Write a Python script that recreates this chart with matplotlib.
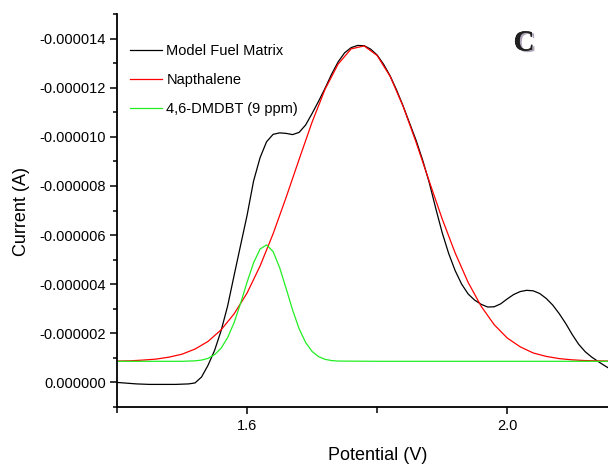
import matplotlib
matplotlib.use("Agg")
import matplotlib.pyplot as plt
from matplotlib.ticker import FixedLocator, FuncFormatter, MultipleLocator
import matplotlib.patheffects as pe

plt.rcParams['font.family'] = ['Liberation Sans', 'DejaVu Sans']

# ---- data (current in microamps) ----
model_x = [1.40, 1.41, 1.42, 1.43, 1.44, 1.45, 1.46, 1.47, 1.48, 1.49,
           1.50, 1.51, 1.52, 1.53, 1.54, 1.55, 1.56, 1.57, 1.58, 1.59,
           1.60, 1.61, 1.62, 1.63, 1.64, 1.65, 1.66, 1.67, 1.68, 1.69,
           1.70, 1.71, 1.72, 1.73, 1.74, 1.75, 1.76, 1.77, 1.78, 1.79,
           1.80, 1.81, 1.82, 1.83, 1.84, 1.85, 1.86, 1.87, 1.88, 1.89,
           1.90, 1.91, 1.92, 1.93, 1.94, 1.95, 1.96, 1.97, 1.98, 1.99,
           2.00, 2.01, 2.02, 2.03, 2.04, 2.05, 2.06, 2.07, 2.08, 2.09,
           2.10, 2.11, 2.12, 2.13, 2.14, 2.15, 2.16]
model_uA = [0.00, 0.02, 0.04, 0.06, 0.07, 0.08, 0.08, 0.08, 0.08, 0.08,
            0.07, 0.06, 0.02, -0.22, -0.70, -1.30, -2.10, -3.10, -4.35, -5.58,
            -6.80, -8.20, -9.15, -9.80, -10.10, -10.16, -10.14, -10.09, -10.18, -10.48,
            -10.95, -11.45, -11.98, -12.55, -13.05, -13.42, -13.63, -13.72, -13.71, -13.57,
            -13.33, -12.95, -12.48, -11.90, -11.25, -10.55, -9.85, -9.05, -8.15, -7.10,
            -6.10, -5.25, -4.55, -4.00, -3.60, -3.35, -3.18, -3.07, -3.08, -3.20,
            -3.40, -3.58, -3.70, -3.75, -3.73, -3.62, -3.42, -3.15, -2.80, -2.40,
            -1.95, -1.55, -1.25, -1.03, -0.85, -0.68, -0.52]

naph_x = [1.40, 1.42, 1.44, 1.46, 1.48, 1.50, 1.52, 1.54, 1.56, 1.58,
          1.60, 1.62, 1.64, 1.66, 1.68, 1.70, 1.72, 1.74, 1.76, 1.78,
          1.80, 1.82, 1.84, 1.86, 1.88, 1.90, 1.92, 1.94, 1.96, 1.98,
          2.00, 2.02, 2.04, 2.06, 2.08, 2.10, 2.12, 2.14, 2.16]
naph_uA = [-0.87, -0.88, -0.91, -0.95, -1.03, -1.15, -1.36, -1.67, -2.14, -2.79,
           -3.64, -4.74, -6.05, -7.53, -9.08, -10.60, -11.94, -12.96, -13.58, -13.70,
           -13.31, -12.46, -11.24, -9.77, -8.20, -6.66, -5.27, -4.07, -3.10, -2.35,
           -1.81, -1.45, -1.20, -1.06, -0.97, -0.92, -0.89, -0.88, -0.87]

dmdbt_x = [1.40, 1.45, 1.50, 1.52, 1.53, 1.54, 1.55, 1.56, 1.57, 1.58,
           1.59, 1.60, 1.61, 1.62, 1.63, 1.64, 1.65, 1.66, 1.67, 1.68,
           1.69, 1.70, 1.71, 1.72, 1.73, 1.74, 1.80, 1.90, 2.00, 2.10, 2.16]
dmdbt_uA = [-0.86, -0.86, -0.86, -0.88, -0.91, -0.98, -1.13, -1.39, -1.82, -2.43,
            -3.22, -4.08, -4.87, -5.43, -5.60, -5.33, -4.68, -3.83, -2.95, -2.19,
            -1.63, -1.26, -1.05, -0.94, -0.89, -0.87, -0.86, -0.86, -0.86, -0.86, -0.86]

series_labels = ["Model Fuel Matrix", "Napthalene", "4,6-DMDBT (9 ppm)"]
series_colors = ["black", "#ff0000", "#22ee22"]
x_major_ticks = [1.6, 2.0]
x_minor_ticks = [1.4, 1.8]
panel_letter = "C"

fig = plt.figure(figsize=(6.08, 4.66), dpi=100)
W, H = 608, 466
ax = fig.add_axes([117 / W, (H - 407) / H, (608 - 117) / W, (407 - 14) / H])

to_A = lambda v: [u * 1e-6 for u in v]
ax.plot(model_x, to_A(model_uA), color=series_colors[0], lw=0.9, label=series_labels[0])
ax.plot(naph_x, to_A(naph_uA), color=series_colors[1], lw=0.9, label=series_labels[1])
ax.plot(dmdbt_x, to_A(dmdbt_uA), color=series_colors[2], lw=0.9, label=series_labels[2])

ax.set_xlim(1.4, 2.155)
ax.set_ylim(1e-6, -1.5e-5)

ax.xaxis.set_major_locator(FixedLocator(x_major_ticks))
ax.xaxis.set_minor_locator(FixedLocator(x_minor_ticks))
ax.xaxis.set_major_formatter(FuncFormatter(lambda v, p: f"{v:.1f}"))
ax.yaxis.set_major_locator(MultipleLocator(2e-6))
ax.yaxis.set_minor_locator(MultipleLocator(1e-6))
ax.yaxis.set_major_formatter(FuncFormatter(lambda v, p: "0.000000" if abs(v) < 1e-9 else f"{v:.6f}"))

for s in ['top', 'right']:
    ax.spines[s].set_visible(False)
for s in ['left', 'bottom']:
    ax.spines[s].set_linewidth(1.3)

ax.tick_params(axis='both', which='major', direction='out', length=5, width=1.1, labelsize=10.5)
ax.tick_params(axis='both', which='minor', direction='out', length=3, width=1.1)
ax.tick_params(axis='x', which='minor', length=4)
ax.tick_params(axis='y', which='major', pad=3)
ax.tick_params(axis='x', which='major', pad=4)

fig.text(378 / W, 1 - 455 / H, "Potential (V)", ha='center', va='center', fontsize=13)
fig.text(22 / W, 1 - 212 / H, "Current (A)", ha='center', va='center', rotation=90, fontsize=13)

leg = ax.legend(loc='upper left', bbox_to_anchor=((130 - 117) / 491, (407 - 44) / 393),
                frameon=False, fontsize=10.5, handlelength=2.2, handletextpad=0.3,
                labelspacing=1.03, borderpad=0, borderaxespad=0)

ax.text((524 - 117) / 491, (407 - 43) / 393, panel_letter, transform=ax.transAxes,
        ha='center', va='center', fontsize=21, fontweight='bold',
        family=['Liberation Serif', 'DejaVu Serif'], color='#202020',
        path_effects=[pe.withSimplePatchShadow(offset=(1.5, -1), shadow_rgbFace='#9a8fa8', alpha=0.8),
                      pe.Normal()])

fig.savefig("out.png", dpi=100)
